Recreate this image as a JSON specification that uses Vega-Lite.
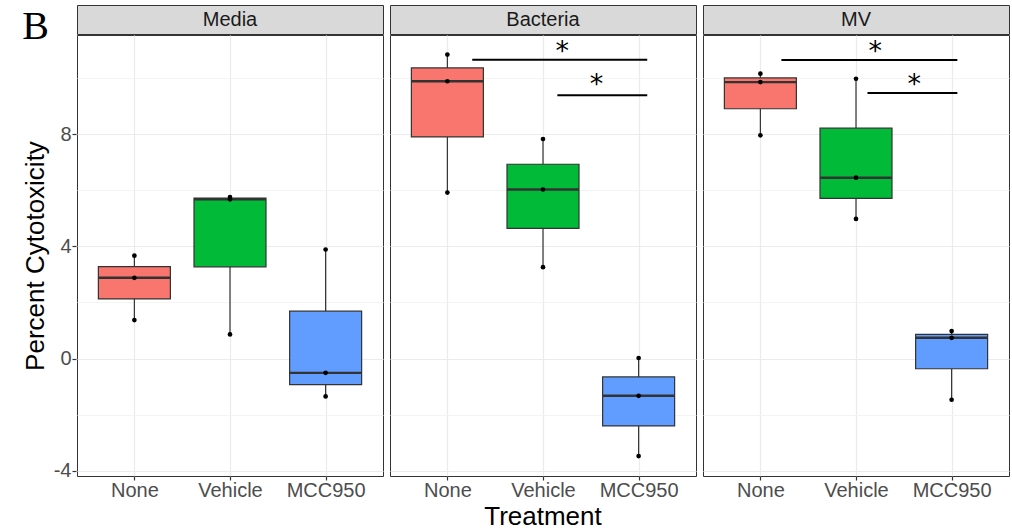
{
  "$schema": "https://vega.github.io/schema/vega-lite/v6.json",
  "background": "white",
  "padding": {"left": 22, "top": 4, "right": 3, "bottom": 0},
  "title": {"text": "B", "anchor": "start", "frame": "bounds", "font": "Liberation Serif", "fontSize": 40, "fontWeight": "normal", "color": "#000000", "offset": -42},
  "datasets": {
    "strips": [{"panel": "Media"}, {"panel": "Bacteria"}, {"panel": "MV"}],
    "cyto": [
      {"panel": "Media", "treatment": "None", "value": 3.67},
      {"panel": "Media", "treatment": "None", "value": 2.88},
      {"panel": "Media", "treatment": "None", "value": 1.37},
      {"panel": "Media", "treatment": "Vehicle", "value": 5.76},
      {"panel": "Media", "treatment": "Vehicle", "value": 5.68},
      {"panel": "Media", "treatment": "Vehicle", "value": 0.86},
      {"panel": "Media", "treatment": "MCC950", "value": 3.89},
      {"panel": "Media", "treatment": "MCC950", "value": -0.51},
      {"panel": "Media", "treatment": "MCC950", "value": -1.35},
      {"panel": "Bacteria", "treatment": "None", "value": 10.84},
      {"panel": "Bacteria", "treatment": "None", "value": 9.89},
      {"panel": "Bacteria", "treatment": "None", "value": 5.92},
      {"panel": "Bacteria", "treatment": "Vehicle", "value": 7.83},
      {"panel": "Bacteria", "treatment": "Vehicle", "value": 6.03},
      {"panel": "Bacteria", "treatment": "Vehicle", "value": 3.26},
      {"panel": "Bacteria", "treatment": "MCC950", "value": 0.02},
      {"panel": "Bacteria", "treatment": "MCC950", "value": -1.33},
      {"panel": "Bacteria", "treatment": "MCC950", "value": -3.48},
      {"panel": "MV", "treatment": "None", "value": 10.16},
      {"panel": "MV", "treatment": "None", "value": 9.86},
      {"panel": "MV", "treatment": "None", "value": 7.96},
      {"panel": "MV", "treatment": "Vehicle", "value": 9.98},
      {"panel": "MV", "treatment": "Vehicle", "value": 6.45},
      {"panel": "MV", "treatment": "Vehicle", "value": 4.98},
      {"panel": "MV", "treatment": "MCC950", "value": 0.98},
      {"panel": "MV", "treatment": "MCC950", "value": 0.74},
      {"panel": "MV", "treatment": "MCC950", "value": -1.47},
      {"panel": "Bacteria", "line_from": 1.26, "line_to": 3.09, "line_y": 10.66, "star_x": 2.2, "star_y": 11.08, "label": "*"},
      {"panel": "Bacteria", "line_from": 2.15, "line_to": 3.09, "line_y": 9.39, "star_x": 2.56, "star_y": 9.91, "label": "*"},
      {"panel": "MV", "line_from": 1.22, "line_to": 3.06, "line_y": 10.65, "star_x": 2.2, "star_y": 11.09, "label": "*"},
      {"panel": "MV", "line_from": 2.12, "line_to": 3.06, "line_y": 9.47, "star_x": 2.61, "star_y": 9.89, "label": "*"}
    ]
  },
  "config": {"font": "Liberation Sans"},
  "spacing": -2,
  "vconcat": [
    {
      "data": {"name": "strips"},
      "facet": {"column": {"field": "panel", "type": "nominal", "sort": ["Media", "Bacteria", "MV"], "header": null}},
      "spacing": 5,
      "spec": {
        "width": 306,
        "height": 29,
        "view": {"fill": "#D9D9D9", "stroke": "#333333", "strokeWidth": 1},
        "mark": {"type": "text", "font": "Liberation Sans", "fontSize": 20, "color": "#1A1A1A"},
        "encoding": {"text": {"field": "panel", "type": "nominal"}}
      }
    },
    {
      "data": {"name": "cyto"},
      "facet": {"column": {"field": "panel", "type": "nominal", "sort": ["Media", "Bacteria", "MV"], "title": "Treatment",
        "header": {"labels": false, "labelPadding": 0, "titleOrient": "bottom", "titleFont": "Liberation Sans", "titleFontSize": 26, "titleColor": "#000000", "titleFontWeight": "normal", "titlePadding": -7}}},
      "spacing": 5,
      "resolve": {"scale": {"x": "independent"}},
      "spec": {
        "width": 306,
        "height": 441,
        "view": {"fill": "white", "stroke": "#333333", "strokeWidth": 1},
        "resolve": {"scale": {"x": "independent"}},
        "layer": [
          {
            "transform": [{"filter": "isValid(datum.value)"}],
            "mark": {"type": "boxplot", "extent": "min-max", "size": 72, "opacity": 1,
              "box": {"stroke": "#333333", "strokeWidth": 1.2},
              "median": {"color": "#333333", "thickness": 2.4},
              "rule": {"color": "#333333", "strokeWidth": 1.2},
              "ticks": false, "outliers": false},
            "encoding": {
              "x": {"field": "treatment", "type": "nominal", "sort": ["None", "Vehicle", "MCC950"], "scale": {"type": "point", "padding": 0.6}, "title": null,
                "axis": {"grid": true, "gridColor": "#EBEBEB", "gridWidth": 1.2, "domain": false, "tickColor": "#333333", "tickSize": 4, "tickWidth": 1.2, "labelAngle": 0, "labelFont": "Liberation Sans", "labelFontSize": 20, "labelColor": "#4D4D4D", "labelPadding": 0}},
              "y": {"field": "value", "type": "quantitative", "title": "Percent Cytotoxicity", "scale": {"domain": [-4.19, 11.54], "nice": false, "zero": false},
                "axis": {"values": [-4, -2, 0, 2, 4, 6, 8, 10],
                  "labelExpr": "datum.value % 4 === 0 ? toString(datum.value) : ''",
                  "grid": true,
                  "gridColor": {"condition": {"test": "datum.value % 4 === 0", "value": "#EBEBEB"}, "value": "#F3F3F3"},
                  "gridWidth": {"condition": {"test": "datum.value % 4 === 0", "value": 1.2}, "value": 0.9},
                  "tickOpacity": {"condition": {"test": "datum.value % 4 === 0", "value": 1}, "value": 0},
                  "tickColor": "#333333", "tickSize": 4, "tickWidth": 1.2, "domain": false,
                  "labelFont": "Liberation Sans", "labelFontSize": 20, "labelColor": "#4D4D4D", "labelPadding": 1,
                  "titleFont": "Liberation Sans", "titleFontSize": 26, "titleColor": "#000000", "titleFontWeight": "normal", "titlePadding": 5}},
              "color": {"field": "treatment", "type": "nominal", "scale": {"domain": ["None", "Vehicle", "MCC950"], "range": ["#F8766D", "#00BA38", "#619CFF"]}, "legend": null}
            }
          },
          {
            "transform": [{"filter": "isValid(datum.value)"}],
            "mark": {"type": "circle", "color": "#000000", "opacity": 1, "size": 22},
            "encoding": {
              "x": {"field": "treatment", "type": "nominal", "sort": ["None", "Vehicle", "MCC950"], "scale": {"type": "point", "padding": 0.6}, "axis": null},
              "y": {"field": "value", "type": "quantitative"}
            }
          },
          {
            "transform": [{"filter": "isValid(datum.line_y)"}],
            "mark": {"type": "rule", "color": "#000000", "strokeWidth": 2},
            "encoding": {
              "x": {"field": "line_from", "type": "quantitative", "scale": {"domain": [0.4, 3.6], "nice": false, "zero": false}, "axis": null},
              "x2": {"field": "line_to"},
              "y": {"field": "line_y", "type": "quantitative"}
            }
          },
          {
            "transform": [{"filter": "isValid(datum.star_y)"}],
            "mark": {"type": "text", "font": "DejaVu Sans", "fontSize": 27, "color": "#000000", "baseline": "middle", "dy": 4},
            "encoding": {
              "x": {"field": "star_x", "type": "quantitative", "scale": {"domain": [0.4, 3.6], "nice": false, "zero": false}, "axis": null},
              "y": {"field": "star_y", "type": "quantitative"},
              "text": {"field": "label", "type": "nominal"}
            }
          }
        ]
      }
    }
  ]
}
